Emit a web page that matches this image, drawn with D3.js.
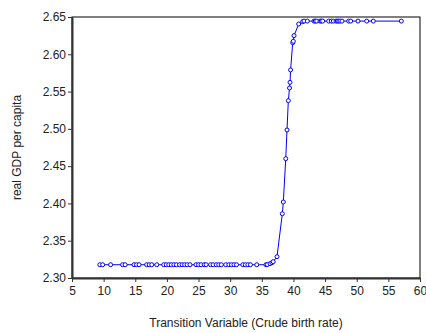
<!DOCTYPE html>
<html>
<head>
<meta charset="utf-8">
<script src="https://cdn.jsdelivr.net/npm/d3@7"></script>
<style>
  body { margin: 0; background: #fff; }
  svg { display: block; font-family: "Liberation Sans", Arial, sans-serif; }
</style>
</head>
<body>
<svg id="chart" width="426" height="333"></svg>
<script>
// transition variable (crude birth rate)
const birthRate = [
  9.4, 9.85, 11.1, 13.0, 13.4, 14.8, 15.2, 15.6, 16.8, 17.2, 17.6, 18.4,
  19.5, 19.9, 20.3, 20.7, 21.1, 21.5, 22.0, 22.4, 22.8, 23.2, 23.65,
  24.6, 25.0, 25.4, 25.9, 26.2, 26.9, 27.3, 27.8, 28.2, 28.6,
  29.3, 29.8, 30.2, 30.6, 31.0, 32.0, 32.4, 32.8, 33.2, 34.2,
  35.66, 35.87, 36.3, 36.6, 36.8, 37.4,
  38.24, 38.4, 38.78, 38.98, 39.19, 39.38, 39.46, 39.55,
  39.88, 39.98, 40.09, 40.83, 41.46, 41.67, 42.19,
  43.25, 43.45, 43.68, 44.2, 44.4, 44.62, 45.57, 45.98, 46.3,
  46.73, 46.93, 47.15, 47.36, 47.67, 48.73, 49.05, 50.2, 51.58, 52.62, 57.05
];
// real GDP per capita (fitted)
const gdp = [
  2.3178, 2.3178, 2.3178, 2.3178, 2.3178, 2.3178, 2.3178, 2.3178, 2.3178, 2.3178, 2.3178, 2.3178,
  2.3178, 2.3178, 2.3178, 2.3178, 2.3178, 2.3178, 2.3178, 2.3178, 2.3178, 2.3178, 2.3178,
  2.3178, 2.3178, 2.3178, 2.3178, 2.3178, 2.3178, 2.3178, 2.3178, 2.3178, 2.3178,
  2.3178, 2.3178, 2.3178, 2.3178, 2.3178, 2.3178, 2.3178, 2.3178, 2.3178, 2.3178,
  2.3178, 2.3180, 2.3192, 2.3205, 2.3219, 2.3286,
  2.3862, 2.4019, 2.4600, 2.4985, 2.5378, 2.5548, 2.5624, 2.5790,
  2.6155, 2.6174, 2.6250, 2.6406, 2.6437, 2.6445, 2.6445,
  2.6445, 2.6445, 2.6445, 2.6445, 2.6445, 2.6445, 2.6445, 2.6445, 2.6445,
  2.6445, 2.6445, 2.6445, 2.6445, 2.6445, 2.6445, 2.6445, 2.6445, 2.6445, 2.6445, 2.6445
];
const xTicks = [5, 10, 15, 20, 25, 30, 35, 40, 45, 50, 55, 60];
const yTicks = [2.30, 2.35, 2.40, 2.45, 2.50, 2.55, 2.60, 2.65];

const svg = d3.select("#chart");
const m = { left: 72, right: 420, top: 17, bottom: 278 };

const x = d3.scaleLinear().domain([5, 60]).range([m.left, m.right]);
const y = d3.scaleLinear().domain([2.30, 2.65]).range([m.bottom, m.top]);

// frame
svg.append("rect")
  .attr("x", m.left).attr("y", m.top)
  .attr("width", m.right - m.left).attr("height", m.bottom - m.top)
  .attr("fill", "none").attr("stroke", "#000").attr("stroke-width", 1);

const xAxis = svg.append("g")
  .attr("transform", `translate(0, ${m.bottom})`)
  .call(d3.axisBottom(x).tickValues(xTicks).tickSize(4).tickSizeOuter(0).tickPadding(4));

const yAxis = svg.append("g")
  .attr("transform", `translate(${m.left}, 0)`)
  .call(d3.axisLeft(y).tickValues(yTicks).tickFormat(d3.format(".2f")).tickSize(4).tickSizeOuter(0).tickPadding(2));

[xAxis, yAxis].forEach((a) => {
  a.select(".domain").attr("stroke", "#333").attr("stroke-width", 2);
  a.selectAll(".tick line").attr("stroke", "#333");
  a.selectAll("text")
    .attr("fill", "#222")
    .style("font-size", "12px")
    .style("font-family", "'Liberation Sans', Arial, sans-serif");
});

const pts = birthRate.map((d, i) => [d, gdp[i]]);

svg.append("path")
  .datum(pts)
  .attr("fill", "none")
  .attr("stroke", "#0000ff")
  .attr("stroke-width", 1)
  .attr("d", d3.line().x((d) => x(d[0])).y((d) => y(d[1])));

svg.append("g")
  .selectAll("circle")
  .data(pts)
  .join("circle")
  .attr("cx", (d) => x(d[0]))
  .attr("cy", (d) => y(d[1]))
  .attr("r", 2)
  .attr("fill", "#fff")
  .attr("stroke", "#0000ff")
  .attr("stroke-width", 1);

// axis titles
svg.append("text")
  .attr("x", (m.left + m.right) / 2)
  .attr("y", 327)
  .attr("text-anchor", "middle")
  .attr("fill", "#222")
  .style("font-size", "12px")
  .text("Transition Variable (Crude birth rate)");

svg.append("text")
  .attr("transform", `translate(21, ${(m.top + m.bottom) / 2}) rotate(-90)`)
  .attr("text-anchor", "middle")
  .attr("fill", "#222")
  .style("font-size", "12px")
  .text("real GDP per capita");
</script>
</body>
</html>
